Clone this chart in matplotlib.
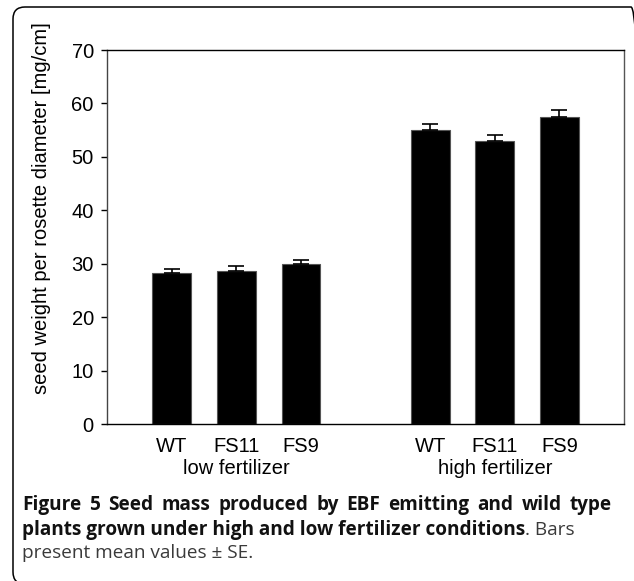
import numpy as np
import matplotlib
matplotlib.use("Agg")
import matplotlib.pyplot as plt
from matplotlib.patches import FancyBboxPatch

# data
strains = ["WT", "FS11", "FS9"]
groups = ["low fertilizer", "high fertilizer"]
low_mean = [28.3, 28.7, 29.9]
low_se = [0.8, 0.8, 0.8]
high_mean = [55.1, 52.9, 57.4]
high_se = [1.0, 1.2, 1.3]

plt.rcParams['font.family'] = ['Liberation Sans', 'DejaVu Sans']

fig = plt.figure(figsize=(6.34, 5.81), dpi=100)
ax = fig.add_axes([0.1688, 0.2702, 0.8155, 0.6437])

x_low = np.arange(3)
x_high = np.arange(3) + 4
means = low_mean + high_mean
ses = low_se + high_se
xs = np.concatenate([x_low, x_high])

fs = 14.5
ax.bar(xs, means, width=0.6, color="black", edgecolor="#555555", linewidth=0.8, zorder=2)
ax.errorbar(xs, means, yerr=[np.zeros(len(ses)), ses], fmt="none", ecolor="black",
            elinewidth=1.2, capsize=6, capthick=1.2, zorder=3)

ax.set_xlim(-1, 7)
ax.set_ylim(0, 70)
ax.set_yticks(range(0, 71, 10))
ax.tick_params(axis="y", direction="out", length=4.5, width=1, labelsize=fs, pad=5)
ax.set_xticks([])
for s in ax.spines.values():
    s.set_linewidth(1)
ax.spines["right"].set_color("#555555")
ax.spines["left"].set_color("#444444")
ax.set_ylabel("seed weight per rosette diameter [mg/cm]", fontsize=fs)
ax.yaxis.set_label_coords(-0.108, 0.578)

# category labels under the axis
for xg, gname in zip([x_low, x_high], groups):
    for xi, sname in zip(xg, strains):
        ax.text(xi, -2.4, sname, ha="center", va="top", fontsize=fs)
    ax.text(xg[1], -6.6, gname, ha="center", va="top", fontsize=fs)

# rounded frame around the panel (right and bottom edges run off the picture)
frame = FancyBboxPatch((0.13, -0.03), 6.30, 5.77,
                       boxstyle="round,pad=0,rounding_size=0.12",
                       transform=fig.dpi_scale_trans, fill=False, edgecolor="black",
                       linewidth=1.1, clip_on=False)
fig.patches.append(frame)

# caption
cap_font = ['Open Sans', 'DejaVu Sans']
cap_size = 13.7
left_px, right_px = 22, 612
W = fig.bbox.width
fig.canvas.draw()
renderer = fig.canvas.get_renderer()

# first line is justified between left_px and right_px
words = "Figure 5 Seed mass produced by EBF emitting and wild type".split()
y1 = 1 - 505 / 581
tmp = [fig.text(0, y1, w, fontsize=cap_size, fontweight="bold", family=cap_font,
                va="center", color="#111111") for w in words]
widths = [t.get_window_extent(renderer).width for t in tmp]
gap = (right_px - left_px - sum(widths)) / (len(words) - 1)
xpos = left_px
for t, w in zip(tmp, widths):
    t.set_x(xpos / W)
    xpos += w + gap

t2 = fig.text(left_px / W, 1 - 530 / 581, "plants grown under high and low fertilizer conditions",
              fontsize=cap_size, fontweight="bold", family=cap_font, va="center", color="#111111")
bb = t2.get_window_extent(renderer)
fig.text(bb.x1 / W, 1 - 530 / 581, ". Bars", fontsize=cap_size,
         family=cap_font, va="center", color="#3a3a3a")
fig.text(left_px / W, 1 - 553 / 581, "present mean values \u00b1 SE.", fontsize=cap_size,
         family=cap_font, va="center", color="#3a3a3a")

fig.savefig("out.png", dpi=100)
